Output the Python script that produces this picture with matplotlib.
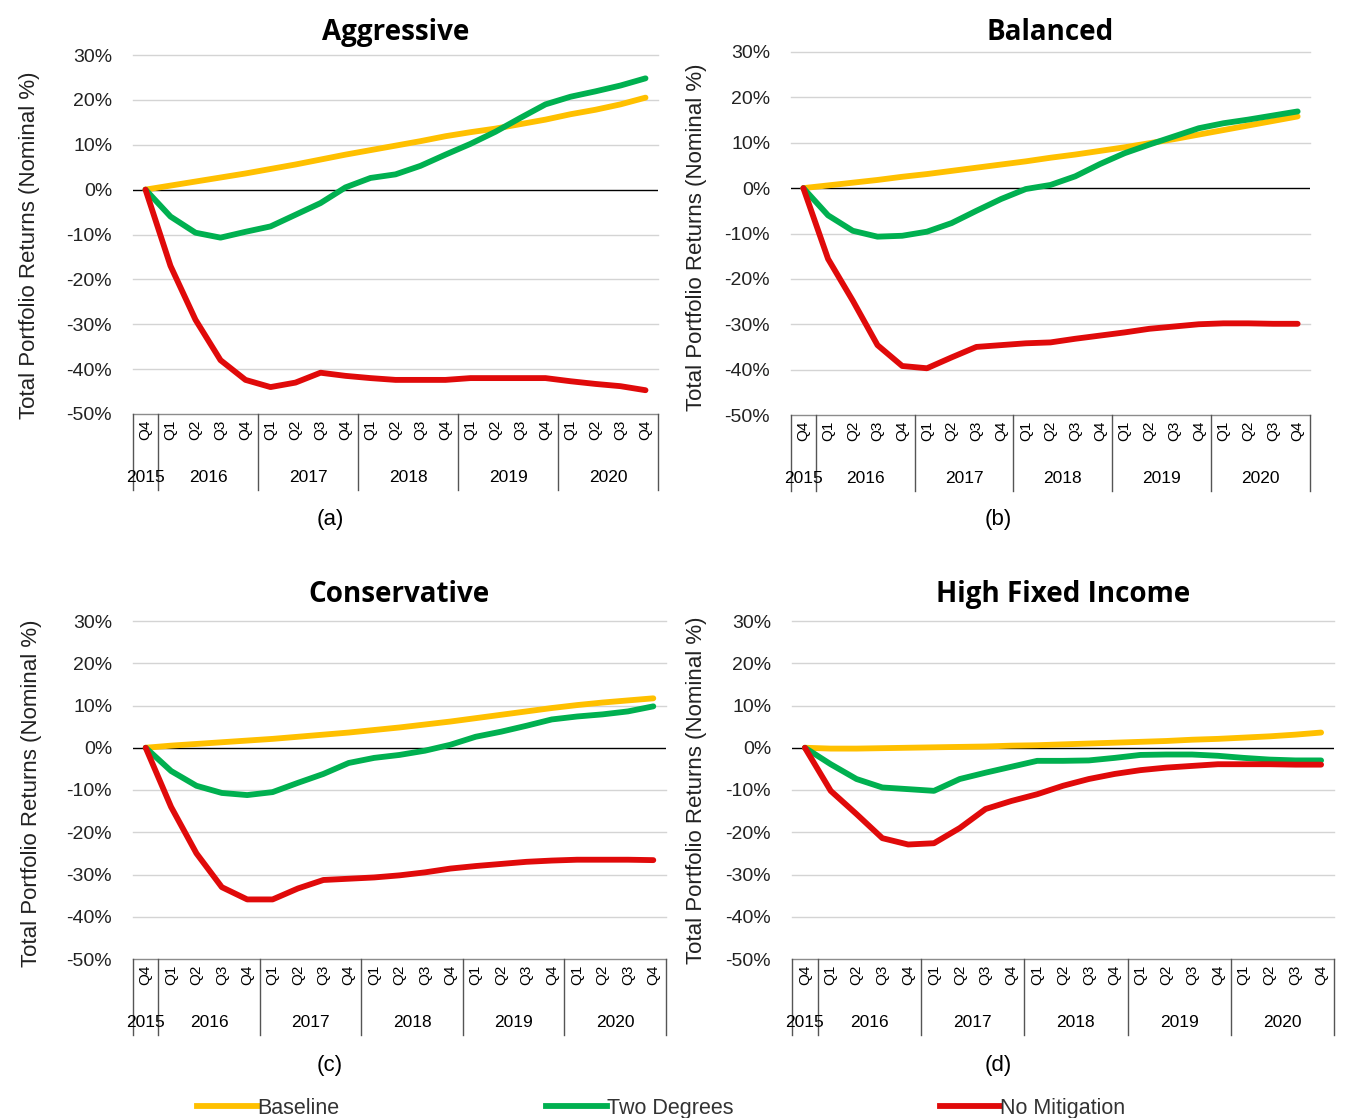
import matplotlib

matplotlib.use("Agg")
import matplotlib.pyplot as plt
from matplotlib.lines import Line2D

plt.rcParams["font.family"] = ["Liberation Sans", "DejaVu Sans"]

# quarterly category axis, 2015 Q4 .. 2020 Q4
quarters = ["Q4"] + ["Q1", "Q2", "Q3", "Q4"] * 5
years = ["2015", "2016", "2017", "2018", "2019", "2020"]
year_centres = [0, 2.5, 6.5, 10.5, 14.5, 18.5]
year_bounds = [-0.5, 0.5, 4.5, 8.5, 12.5, 16.5, 20.5]

scenarios = ["Baseline", "Two Degrees", "No Mitigation"]
colours = ["#FFC000", "#00B050", "#E00A0A"]

# total portfolio returns, nominal %
aggressive_baseline = [0, 0.9, 1.8, 2.7, 3.6, 4.6, 5.6, 6.7, 7.8, 8.8, 9.8,
                       10.8, 11.9, 12.8, 13.6, 14.6, 15.6, 16.8, 17.8, 19.0, 20.5]
aggressive_two_deg = [0, -6.0, -9.6, -10.7, -9.4, -8.2, -5.6, -3.0, 0.5, 2.6, 3.4,
                      5.3, 7.8, 10.2, 12.9, 16.0, 19.0, 20.7, 21.9, 23.2, 24.8]
aggressive_no_mit = [0, -17.0, -29.0, -38.0, -42.4, -44.0, -43.0, -40.8, -41.5, -42.0, -42.4,
                     -42.4, -42.4, -42.0, -42.0, -42.0, -42.0, -42.7, -43.3, -43.8, -44.7]

balanced_baseline = [0, 0.6, 1.2, 1.8, 2.5, 3.1, 3.8, 4.5, 5.2, 5.9, 6.7,
                     7.4, 8.2, 9.0, 9.9, 10.8, 11.8, 12.8, 13.8, 14.8, 15.8]
balanced_two_deg = [0, -6.0, -9.4, -10.7, -10.5, -9.6, -7.7, -5.0, -2.4, -0.2, 0.7,
                    2.6, 5.3, 7.7, 9.6, 11.4, 13.2, 14.3, 15.1, 16.0, 16.9]
balanced_no_mit = [0, -15.6, -24.8, -34.6, -39.2, -39.7, -37.3, -35.0, -34.6, -34.2, -34.0,
                   -33.2, -32.5, -31.8, -31.0, -30.5, -30.0, -29.8, -29.8, -29.9, -29.9]

conservative_baseline = [0, 0.5, 0.9, 1.3, 1.7, 2.1, 2.6, 3.1, 3.6, 4.2, 4.8,
                         5.5, 6.2, 7.0, 7.8, 8.6, 9.4, 10.1, 10.7, 11.2, 11.7]
conservative_two_deg = [0, -5.5, -9.0, -10.7, -11.2, -10.5, -8.3, -6.2, -3.6, -2.4, -1.7,
                        -0.7, 0.7, 2.6, 3.8, 5.2, 6.7, 7.4, 7.9, 8.6, 9.8]
conservative_no_mit = [0, -14.0, -25.0, -33.0, -35.9, -35.9, -33.3, -31.3, -31.0, -30.7, -30.2,
                       -29.5, -28.6, -28.0, -27.5, -27.0, -26.7, -26.5, -26.5, -26.5, -26.6]

hfi_baseline = [0, -0.2, -0.2, -0.1, 0.0, 0.1, 0.2, 0.3, 0.5, 0.6, 0.8,
                1.0, 1.2, 1.4, 1.6, 1.9, 2.1, 2.4, 2.7, 3.1, 3.6]
hfi_two_deg = [0, -3.9, -7.4, -9.4, -9.8, -10.2, -7.4, -5.9, -4.5, -3.1, -3.1,
               -3.0, -2.4, -1.7, -1.6, -1.6, -1.9, -2.4, -2.8, -3.0, -3.0]
hfi_no_mit = [0, -10.2, -15.7, -21.4, -22.9, -22.6, -19.0, -14.5, -12.6, -11.0, -9.0,
              -7.4, -6.2, -5.3, -4.7, -4.3, -3.9, -3.9, -3.9, -4.0, -4.0]

y_ticks = [-50, -40, -30, -20, -10, 0, 10, 20, 30]

FIG_W, FIG_H = 1346, 1118


def px_box(left, right, top, bottom):
    """axes rect from pixel edges of the reference"""
    return [left / FIG_W, 1 - bottom / FIG_H, (right - left) / FIG_W,
            (bottom - top) / FIG_H]


def draw_panel(fig, rect, title, series, tag, tag_xy, title_pad, ylab_px):
    ax = fig.add_axes(rect)
    x = list(range(len(quarters)))
    for values, colour in zip(series, colours):
        ax.plot(x, values, color=colour, lw=4.2, solid_capstyle="round",
                solid_joinstyle="round", zorder=3)
    ax.set_xlim(-0.5, len(quarters) - 0.5)
    ax.set_ylim(-50, 30)
    ax.set_yticks(y_ticks)
    ax.set_yticklabels([f"{t}%" for t in y_ticks], fontsize=14)
    ax.tick_params(axis="y", length=0, pad=15, colors="#222222")
    ax.set_xticks([])
    for t in y_ticks:
        if t == 0:
            ax.axhline(t, color="black", lw=1, zorder=2)
        else:
            ax.axhline(t, color="#d4d4d4" if t > -50 else "#8c8c8c",
                       lw=1, zorder=1, clip_on=False)
    for s in ax.spines.values():
        s.set_visible(False)
    ax.set_title(title, fontsize=20, fontweight="bold", pad=title_pad,
                 family=["Open Sans", "DejaVu Sans"])
    ax.set_ylabel("Total Portfolio Returns (Nominal %)", fontsize=16,
                  color="#222222")
    # (right edge in px, centre in axes fraction)
    w_px = rect[2] * FIG_W
    ax.yaxis.set_label_coords((ylab_px[0] - rect[0] * FIG_W) / w_px,
                              ylab_px[1])

    # multi-level category labels under the plot area
    h_px = rect[3] * FIG_H
    for i, q in enumerate(quarters):
        ax.annotate(q, xy=(i, 0), xycoords=("data", "axes fraction"),
                    xytext=(0, -4), textcoords="offset points",
                    rotation=90, ha="center", va="top", fontsize=11)
    for xc, yr in zip(year_centres, years):
        ax.annotate(yr, xy=(xc, 0), xycoords=("data", "axes fraction"),
                    xytext=(0, -46), textcoords="offset points",
                    ha="center", va="center", fontsize=12.5)
    depth = -76 / h_px
    for xb in year_bounds:
        ax.plot([xb, xb], [0, depth], color="#555555", lw=1,
                transform=ax.get_xaxis_transform(), clip_on=False)
    fig.text(tag_xy[0], tag_xy[1], tag, fontsize=16, ha="center", va="center")
    return ax


fig = plt.figure(figsize=(FIG_W / 100, FIG_H / 100), dpi=100)

draw_panel(fig, px_box(133, 658, 55, 414), "Aggressive",
           [aggressive_baseline, aggressive_two_deg, aggressive_no_mit],
           "(a)", (330 / FIG_W, 1 - 520 / FIG_H), 11, (40, 0.47))
draw_panel(fig, px_box(791, 1310, 52, 415), "Balanced",
           [balanced_baseline, balanced_two_deg, balanced_no_mit],
           "(b)", (998 / FIG_W, 1 - 520 / FIG_H), 9, (707, 0.49))
draw_panel(fig, px_box(133, 666, 621, 959), "Conservative",
           [conservative_baseline, conservative_two_deg, conservative_no_mit],
           "(c)", (330 / FIG_W, 1 - 1065 / FIG_H), 14, (42, 0.49))
draw_panel(fig, px_box(792, 1334, 621, 959), "High Fixed Income",
           [hfi_baseline, hfi_two_deg, hfi_no_mit],
           "(d)", (998 / FIG_W, 1 - 1065 / FIG_H), 14, (707, 0.5))

handles = [Line2D([], [], color=c, lw=4.2) for c in colours]
fig.legend(handles, scenarios, loc="lower left", ncol=3, frameon=False,
           bbox_to_anchor=(178 / FIG_W, -0.018), fontsize=15.5,
           handlelength=2.8, handletextpad=0.0, columnspacing=9.6,
           labelcolor="#333333")

fig.savefig("out.png", dpi=100)
